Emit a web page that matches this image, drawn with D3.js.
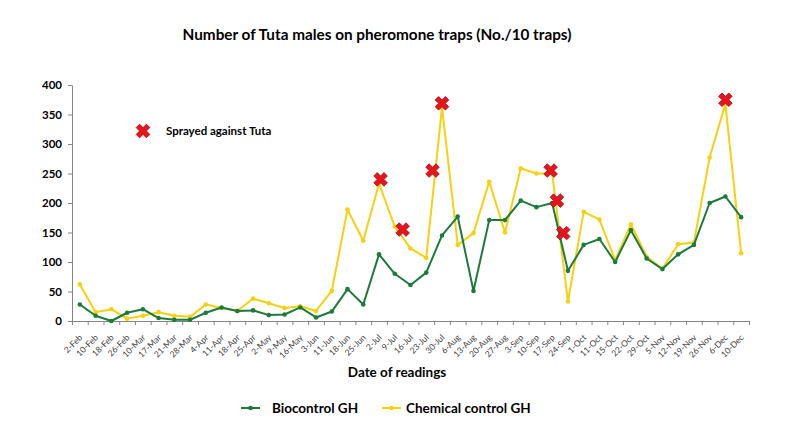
<!DOCTYPE html>
<html>
<head>
<meta charset="utf-8">
<script src="https://cdn.jsdelivr.net/npm/d3@7"></script>
<style>
  body { margin: 0; background: #fff; }
  text { font-family: Lato, "Open Sans", sans-serif; }
</style>
</head>
<body>
<div id="chart"></div>
<script>
const dates = ["2-Feb", "10-Feb", "18-Feb", "26-Feb", "10-Mar", "17-Mar", "21-Mar", "28-Mar", "4-Apr", "11-Apr",
    "18-Apr", "25-Apr", "2-May", "9-May", "16-May", "3-Jun", "11-Jun", "18-Jun", "25-Jun", "2-Jul",
    "9-Jul", "16-Jul", "23-Jul", "30-Jul", "6-Aug", "13-Aug", "20-Aug", "27-Aug", "3-Sep", "10-Sep",
    "17-Sep", "24-Sep", "1-Oct", "11-Oct", "15-Oct", "22-Oct", "29-Oct", "5-Nov", "12-Nov", "19-Nov",
    "26-Nov", "6-Dec", "10-Dec"];

const biocontrol = [28, 9, 0, 14, 20, 5, 2, 2, 14, 23,
    17, 18, 10, 11, 23, 6, 16, 54, 28, 113,
    80, 61, 82, 145, 177, 51, 171, 171, 204, 193,
    200, 85, 129, 139, 100, 154, 106, 88, 113, 129,
    200, 211, 176];

const chemical = [62, 15, 20, 4, 9, 15, 9, 7, 28, 22,
    17, 38, 30, 22, 25, 17, 51, 189, 136, 233,
    160, 123, 107, 362, 129, 149, 236, 150, 259, 250,
    250, 33, 185, 172, 103, 164, 109, 89, 130, 133,
    277, 368, 115];

// spray events: position on the date axis (index, can fall between readings) and height
const sprayPos = [19.1, 20.5, 22.4, 23.0, 29.9, 30.3, 30.7, 41.0];
const sprayVal = [240, 155, 255, 369, 255, 204, 149, 375];

const yTicks = [0, 50, 100, 150, 200, 250, 300, 350, 400];

const width = 800, height = 442;
const margin = { top: 85, right: 51, bottom: 121, left: 72 };

const svg = d3.select("#chart")
    .append("svg")
    .attr("width", width)
    .attr("height", height);

const x = d3.scaleLinear()
    .domain([0, dates.length])
    .range([margin.left, width - margin.right]);

const y = d3.scaleLinear()
    .domain([0, 400])
    .range([height - margin.bottom, margin.top]);

const cx = i => x(i + 0.5);

// y axis
const yAxis = svg.append("g")
    .attr("transform", `translate(${margin.left},0)`)
    .call(d3.axisLeft(y).tickValues(yTicks).tickSize(4).tickSizeOuter(0).tickPadding(6));
yAxis.select(".domain").attr("stroke", "#868686");
yAxis.selectAll(".tick line").attr("stroke", "#868686");
yAxis.selectAll(".tick text")
    .attr("fill", "#000")
    .style("font-size", "11.5px")
    .style("font-weight", "bold");

// x axis: ticks at category boundaries
const xAxis = svg.append("g")
    .attr("transform", `translate(0,${y(0)})`)
    .call(d3.axisBottom(x).tickValues(d3.range(dates.length + 1)).tickFormat("").tickSize(4).tickSizeOuter(0));
xAxis.select(".domain").attr("stroke", "#868686");
xAxis.selectAll(".tick line").attr("stroke", "#868686");

svg.append("g")
    .selectAll("text")
    .data(dates)
    .join("text")
    .attr("transform", (d, i) => `translate(${cx(i) + 1},${y(0) + 15}) rotate(-45)`)
    .attr("text-anchor", "end")
    .attr("dy", "0.35em")
    .style("font-size", "8.5px")
    .attr("fill", "#404040")
    .text(d => d);

// lines
const line = d3.line()
    .x((d, i) => cx(i))
    .y(d => y(d));

const series = [
    { name: "Biocontrol GH", values: biocontrol, color: "#1d7a3a" },
    { name: "Chemical control GH", values: chemical, color: "#f5d10f" }
];

series.slice().reverse().forEach(s => {
    svg.append("path")
        .datum(s.values)
        .attr("fill", "none")
        .attr("stroke", s.color)
        .attr("stroke-width", 2)
        .attr("stroke-linejoin", "round")
        .attr("d", line);
    svg.append("g")
        .selectAll("circle")
        .data(s.values)
        .join("circle")
        .attr("cx", (d, i) => cx(i))
        .attr("cy", d => y(d))
        .attr("r", 2.3)
        .attr("fill", s.color);
});

// spray markers
const cross = d3.symbol().type(d3.symbolCross).size(115);
svg.append("g")
    .selectAll("path")
    .data(sprayPos)
    .join("path")
    .attr("transform", (d, i) => `translate(${cx(d)},${y(sprayVal[i])}) rotate(45)`)
    .attr("d", cross)
    .attr("fill", "#e8141c")
    .attr("stroke", "#a01020")
    .attr("stroke-width", 0.8);

// spray legend
svg.append("path")
    .attr("transform", "translate(143,131) rotate(45)")
    .attr("d", cross)
    .attr("fill", "#e8141c")
    .attr("stroke", "#a01020")
    .attr("stroke-width", 0.8);
svg.append("text")
    .attr("x", 166)
    .attr("y", 131)
    .attr("dy", "0.35em")
    .style("font-size", "11.5px")
    .style("font-weight", "bold")
    .text("Sprayed against Tuta");

// title
svg.append("text")
    .attr("x", 377)
    .attr("y", 35)
    .attr("dy", "0.35em")
    .attr("text-anchor", "middle")
    .style("font-size", "15.3px")
    .style("font-weight", "bold")
    .text("Number of Tuta males on pheromone traps (No./10 traps)");

// x axis title
svg.append("text")
    .attr("x", 397)
    .attr("y", 372)
    .attr("dy", "0.35em")
    .attr("text-anchor", "middle")
    .style("font-size", "13.5px")
    .style("font-weight", "bold")
    .text("Date of readings");

// series legend
const legendX = [241, 382];
const legendTextX = [272, 406];
series.forEach((s, i) => {
    const g = svg.append("g");
    g.append("line")
        .attr("x1", legendX[i])
        .attr("x2", legendX[i] + 19)
        .attr("y1", 408)
        .attr("y2", 408)
        .attr("stroke", s.color)
        .attr("stroke-width", 2);
    g.append("circle")
        .attr("cx", legendX[i] + 9.5)
        .attr("cy", 408)
        .attr("r", 2.3)
        .attr("fill", s.color);
    g.append("text")
        .attr("x", legendTextX[i])
        .attr("y", 408)
        .attr("dy", "0.35em")
        .style("font-size", "13.5px")
        .style("font-weight", "bold")
        .text(s.name);
});
</script>
</body>
</html>
